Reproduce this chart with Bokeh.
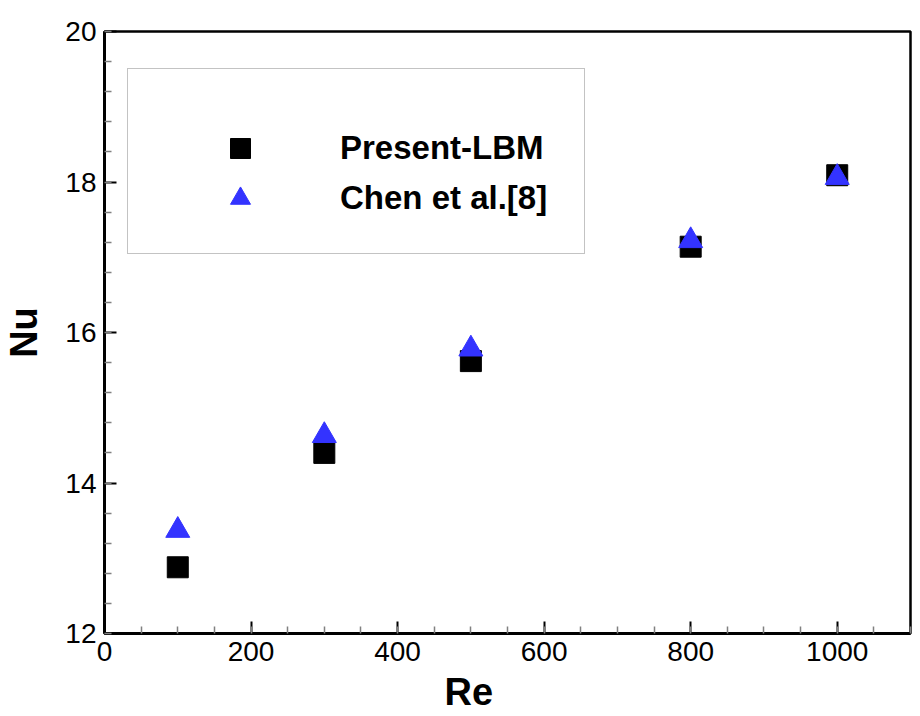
from bokeh.plotting import figure
from bokeh.models import Range1d, Legend, LegendItem, Title, SingleIntervalTicker
from bokeh.embed import file_html
from bokeh.resources import INLINE

# Nusselt number vs Reynolds number
re = [100, 300, 500, 800, 1000]
nu_lbm = [12.88, 14.40, 15.62, 17.14, 18.09]
nu_chen = [13.37, 14.63, 15.78, 17.22, 18.06]

FONT = "Liberation Sans"
BLUE = "#3333ff"

p = figure(frame_width=806, frame_height=602,
           x_range=Range1d(0, 1100), y_range=Range1d(12, 20),
           output_backend="svg", toolbar_location=None,
           min_border_left=104, min_border_top=31, min_border_right=6,
           min_border_bottom=4, background_fill_color="white")
p.grid.visible = False
p.outline_line_color = "black"
p.outline_line_width = 2.5

r_lbm = p.scatter(re, nu_lbm, marker="square", size=21,
                  fill_color="black", line_color="black")
r_chen = p.scatter(re, nu_chen, marker="triangle", size=24,
                   fill_color=BLUE, line_color=BLUE)

p.xaxis.ticker = SingleIntervalTicker(interval=200, num_minor_ticks=4)
p.yaxis.ticker = SingleIntervalTicker(interval=2, num_minor_ticks=5)

for ax in (p.xaxis, p.yaxis):
    ax.axis_line_width = 3
    ax.axis_line_color = "black"
    ax.major_tick_in = 12
    ax.major_tick_out = 0
    ax.major_tick_line_width = 2
    ax.major_tick_line_color = "black"
    ax.minor_tick_in = 7
    ax.minor_tick_out = 0
    ax.minor_tick_line_width = 1.5
    ax.minor_tick_line_color = "#808080"
    ax.major_label_text_font = FONT
    ax.major_label_text_font_size = "28px"
    ax.major_label_text_color = "black"
    ax.major_label_standoff = 8

p.yaxis.axis_label = "Nu"
p.yaxis.axis_label_text_font = FONT
p.yaxis.axis_label_text_font_size = "38px"
p.yaxis.axis_label_text_font_style = "bold"
p.yaxis.axis_label_text_color = "black"
p.yaxis.axis_label_standoff = 17

p.add_layout(Title(text="Re", align="left", offset=340, standoff=11,
                   text_font=FONT, text_font_size="38px",
                   text_font_style="bold", text_color="black"), "below")

legend = Legend(items=[LegendItem(label="Present-LBM", renderers=[r_lbm]),
                       LegendItem(label="Chen et al.[8]", renderers=[r_chen])],
                location=(23, 379), margin=0, padding=30,
                glyph_width=164, glyph_height=50, spacing=-4,
                label_standoff=18, label_width=214,
                label_text_font=FONT, label_text_font_size="33px",
                label_text_font_style="bold", label_text_color="black",
                title=" ", title_text_font_size="16px", title_standoff=6,
                border_line_color="#888888", border_line_width=1.5,
                background_fill_color="white", background_fill_alpha=1.0)
p.add_layout(legend, "center")

open("out.html", "w").write(file_html(p, INLINE))
